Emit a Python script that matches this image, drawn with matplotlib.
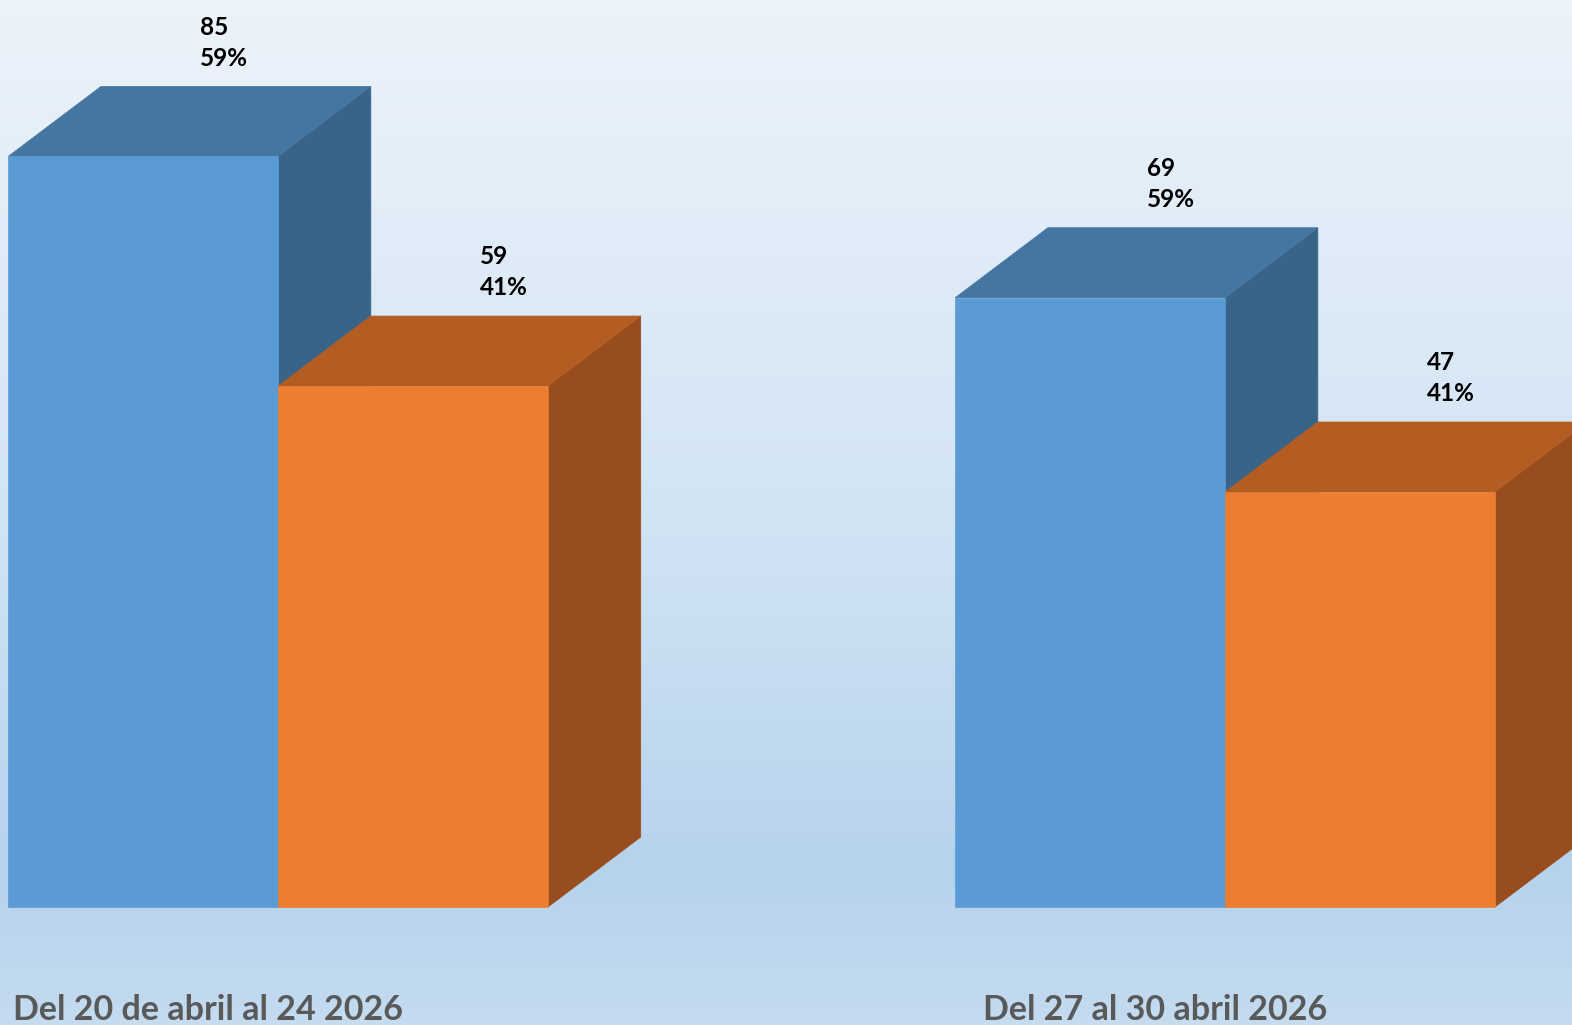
import numpy as np
import matplotlib.pyplot as plt
from matplotlib.patches import Polygon
from matplotlib.colors import LinearSegmentedColormap

periodos = ["Del 20 de abril al 24 2026", "Del 27 al 30 abril 2026"]
serie_azul = [85, 69]
serie_naranja = [59, 47]
pct_azul = ["59%", "59%"]
pct_naranja = ["41%", "41%"]

plt.rcParams['font.family'] = ['Lato', 'DejaVu Sans']

fig = plt.figure(figsize=(15.72, 10.25), dpi=100)
ax = fig.add_axes([0, 0, 1, 1])
ax.set_xlim(-0.2936, 1.3664)
ax.set_ylim(-13.36, 102.72)
ax.axis("off")

# fondo degradado
cmap = LinearSegmentedColormap.from_list(
    "fondo", [(0, "#c4dbf0"), (0.15, "#b6d3ec"), (0.5, "#d2e4f4"), (1, "#ecf3fa")])
grad = np.linspace(0, 1, 256).reshape(-1, 1)
ax.imshow(grad, extent=[-0.2936, 1.3664, -13.36, 102.72], origin="lower",
          cmap=cmap, aspect="auto", zorder=0)

width = 0.285
dx = 0.098   # profundidad en x
dy = 7.93    # profundidad en y

def barra3d(x0, h, c_frente, c_arriba, c_lado):
    frente = Polygon([(x0, 0), (x0 + width, 0), (x0 + width, h), (x0, h)],
                     closed=True, facecolor=c_frente, edgecolor=c_frente, lw=0.5, zorder=3)
    arriba = Polygon([(x0, h), (x0 + width, h), (x0 + width + dx, h + dy), (x0 + dx, h + dy)],
                     closed=True, facecolor=c_arriba, edgecolor=c_arriba, lw=0.5, zorder=2)
    lado = Polygon([(x0 + width, 0), (x0 + width + dx, dy), (x0 + width + dx, h + dy), (x0 + width, h)],
                   closed=True, facecolor=c_lado, edgecolor=c_lado, lw=0.5, zorder=2)
    for p in (lado, arriba, frente):
        ax.add_patch(p)

x = np.arange(len(periodos))
for i in x:
    barra3d(i - width, serie_azul[i], "#5b9bd5", "#4575a1", "#39648a")
    barra3d(i, serie_naranja[i], "#ed7d31", "#b45d22", "#974d1e")

    ax.text(i - width / 2 + dx * 0.87, serie_azul[i] + dy + 1.9,
            f"{serie_azul[i]}\n{pct_azul[i]}", ha="center", va="bottom",
            multialignment="left", fontsize=17.5, fontweight="bold",
            color="black", linespacing=1.42, zorder=5)
    ax.text(i + width / 2 + dx * 0.98, serie_naranja[i] + dy + 1.9,
            f"{serie_naranja[i]}\n{pct_naranja[i]}", ha="center", va="bottom",
            multialignment="left", fontsize=17.5, fontweight="bold",
            color="black", linespacing=1.42, zorder=5)

    ax.text(i - 0.074, -12.8, periodos[i], ha="center", va="baseline",
            fontsize=24.5, fontweight="bold", color="#595959", zorder=5)

fig.savefig("out.png", dpi=100)
